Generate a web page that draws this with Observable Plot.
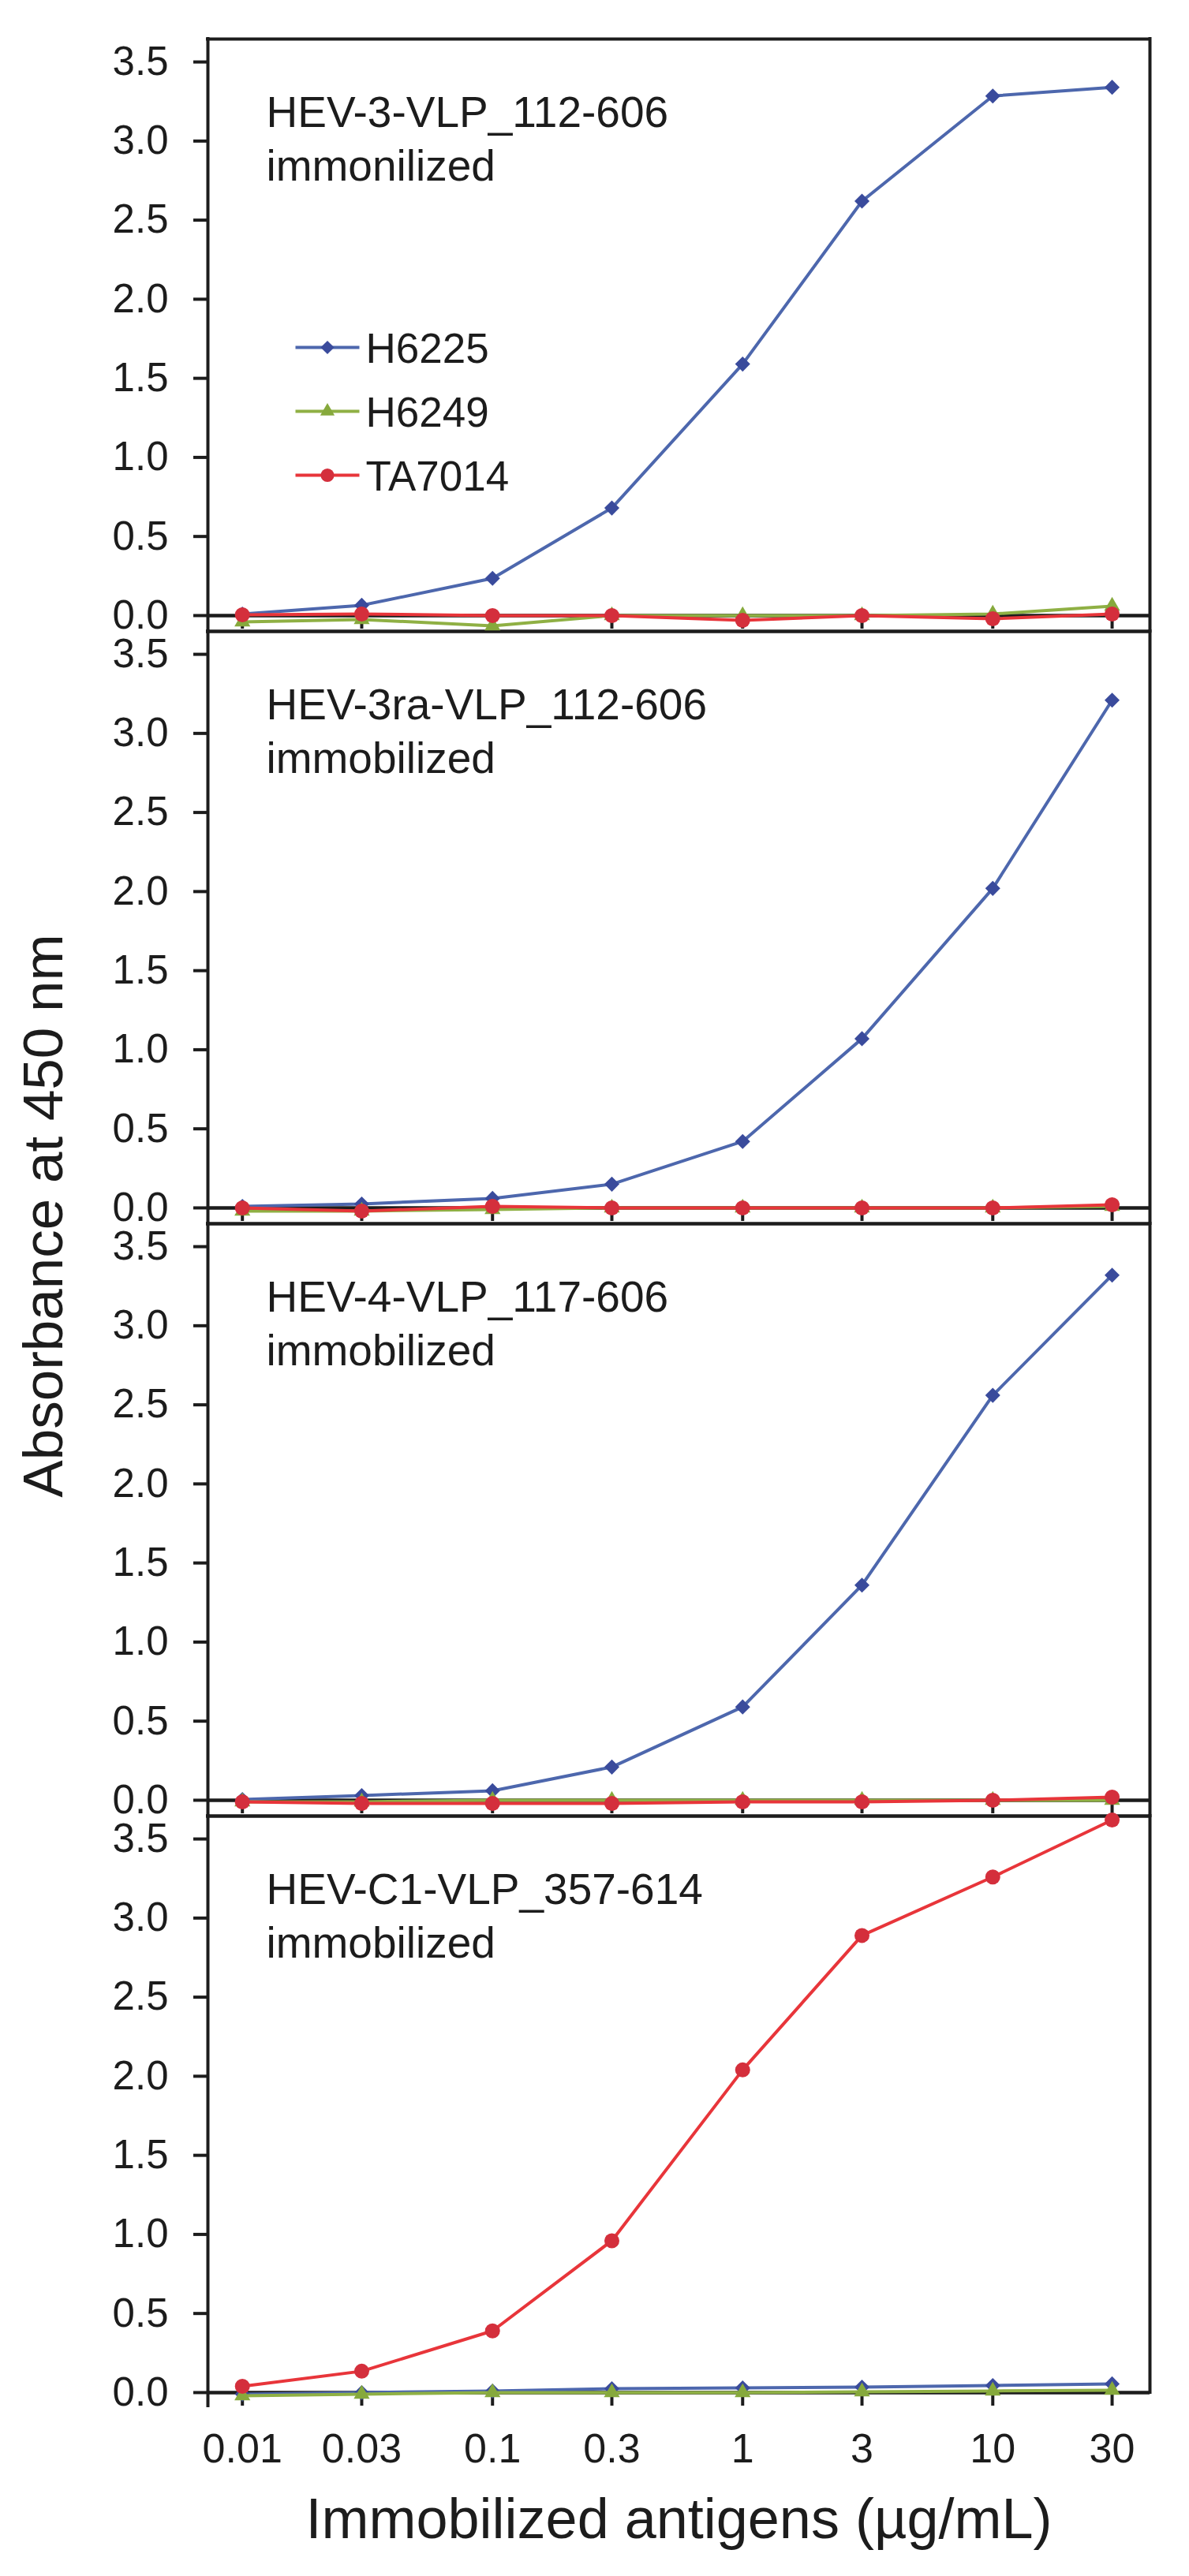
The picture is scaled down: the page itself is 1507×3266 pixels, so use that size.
<!DOCTYPE html>
<html>
<head>
<meta charset="utf-8">
<script src="https://cdn.jsdelivr.net/npm/d3@7"></script>
<script src="https://cdn.jsdelivr.net/npm/@observablehq/plot@0.6"></script>
<style>
  html, body { margin: 0; padding: 0; background: #ffffff; }
  #chart { width: 1507px; height: 3266px; overflow: hidden; }
</style>
</head>
<body>
<div id="chart"></div>
<script>
// ---------- data ----------
const concentrations = [0.01, 0.03, 0.1, 0.3, 1, 3, 10, 30];
const xTickLabels = ["0.01", "0.03", "0.1", "0.3", "1", "3", "10", "30"];
const yTicks = [0, 0.5, 1, 1.5, 2, 2.5, 3, 3.5];

const panels = ["HEV-3-VLP_112-606", "HEV-3ra-VLP_112-606", "HEV-4-VLP_117-606", "HEV-C1-VLP_357-614"];
const panelNotes = ["immonilized", "immobilized", "immobilized", "immobilized"];
const seriesNames = ["H6225", "H6249", "TA7014"];

const xTitle = "Immobilized antigens (µg/mL)";
const yTitle = "Absorbance at 450 nm";

// panel 1: HEV-3-VLP_112-606
const p1_H6225  = [0.01, 0.065, 0.235, 0.68, 1.59, 2.62, 3.285, 3.34];
const p1_H6249  = [-0.04, -0.025, -0.065, 0.0, 0.0, 0.0, 0.01, 0.06];
const p1_TA7014 = [0.005, 0.01, 0.0, 0.0, -0.03, 0.0, -0.02, 0.01];
// panel 2: HEV-3ra-VLP_112-606
const p2_H6225  = [0.01, 0.025, 0.06, 0.15, 0.42, 1.07, 2.02, 3.21];
const p2_H6249  = [-0.02, -0.02, -0.01, 0.0, 0.0, 0.0, 0.0, 0.01];
const p2_TA7014 = [0.0, -0.02, 0.01, 0.0, 0.0, 0.0, 0.0, 0.02];
// panel 3: HEV-4-VLP_117-606
const p3_H6225  = [0.005, 0.03, 0.06, 0.21, 0.59, 1.36, 2.56, 3.32];
const p3_H6249  = [-0.01, -0.01, 0.0, 0.0, 0.0, 0.0, 0.0, 0.0];
const p3_TA7014 = [-0.01, -0.02, -0.02, -0.02, -0.01, -0.01, 0.0, 0.02];
// panel 4: HEV-C1-VLP_357-614
const p4_H6225  = [-0.01, 0.0, 0.01, 0.025, 0.03, 0.035, 0.045, 0.055];
const p4_H6249  = [-0.02, -0.01, 0.0, 0.0, 0.0, 0.005, 0.01, 0.015];
const p4_TA7014 = [0.04, 0.135, 0.39, 0.96, 2.04, 2.89, 3.26, 3.62];

// ---------- styles ----------
const lineColors   = ["#4d67ad", "#8fb044", "#e8353a"];
const markerColors = ["#3a4b9c", "#86a93c", "#d42f3c"];
const markerSymbols = ["diamond2", "triangle", "circle"];
const markerSizes = [8.6, 7.5, 9.5];
const ink = "#1c1c1c";
const fontFamily = "'Liberation Sans', Arial, Helvetica, sans-serif";

const xDomain = [0.00728, 42.5];
const yDomain = [-0.1, 3.645];
const yLow4 = -0.085;          // left spine extent below zero in the last panel
const tickDown = -0.085;       // x tick length below the zero line

// ---------- table ----------
const values = [
  [p1_H6225, p1_H6249, p1_TA7014],
  [p2_H6225, p2_H6249, p2_TA7014],
  [p3_H6225, p3_H6249, p3_TA7014],
  [p4_H6225, p4_H6249, p4_TA7014]
];
const rows = [];
panels.forEach((panel, p) =>
  seriesNames.forEach((series, k) =>
    concentrations.forEach((conc, i) =>
      rows.push({panel, series, conc, value: values[p][k][i]}))));

const lastPanel = panels[panels.length - 1];
const legendLine = {draw(context) { context.moveTo(-40.5, 0); context.lineTo(40.5, 0); }};

const seriesMarks = seriesNames.flatMap((s, k) => {
  const data = rows.filter(d => d.series === s);
  return [
    Plot.line(data, {x: "conc", y: "value", fy: "panel", stroke: lineColors[k], strokeWidth: 4}),
    Plot.dot(data, {x: "conc", y: "value", fy: "panel", symbol: markerSymbols[k], r: markerSizes[k], fill: markerColors[k], stroke: "none"})
  ];
});

const legendMarks = seriesNames.flatMap((s, k) => {
  const dy = 391 + k * 81;
  const common = {fy: () => panels[0], frameAnchor: "top-left"};
  return [
    Plot.dot([s], {...common, dx: 151.5, dy, symbol: legendLine, fill: "none", stroke: lineColors[k], strokeWidth: 4}),
    Plot.dot([s], {...common, dx: 151.5, dy, symbol: markerSymbols[k], r: markerSizes[k] * 0.9, fill: markerColors[k], stroke: "none"}),
    Plot.text([s], {...common, text: d => d, dx: 200, dy: dy + 19, textAnchor: "start", lineAnchor: "bottom", fontSize: 53, fill: ink})
  ];
});

const chart = Plot.plot({
  width: 1507,
  height: 3266,
  marginLeft: 263,
  marginRight: 50,
  marginTop: 49,
  marginBottom: 213,
  style: {fontFamily, fontSize: "51px", color: ink, background: "#ffffff", overflow: "visible"},
  x: {type: "log", domain: xDomain},
  y: {domain: yDomain},
  fy: {domain: panels, padding: 0, axis: null},
  marks: [
    // frames
    Plot.ruleY(panels, {fy: d => d, y: () => yDomain[1], stroke: ink, strokeWidth: 4, strokeLinecap: "square"}),
    Plot.ruleY(panels.slice(0, 3), {fy: d => d, y: () => yDomain[0], stroke: ink, strokeWidth: 4, strokeLinecap: "square"}),
    Plot.ruleX(panels, {fy: d => d, x: () => xDomain[0], y1: d => d === lastPanel ? yLow4 : yDomain[0], y2: () => yDomain[1], stroke: ink, strokeWidth: 4, strokeLinecap: "square"}),
    Plot.ruleX(panels, {fy: d => d, x: () => xDomain[1], y1: d => d === lastPanel ? 0 : yDomain[0], y2: () => yDomain[1], stroke: ink, strokeWidth: 4, strokeLinecap: "square"}),
    // zero line and x ticks in each panel
    Plot.ruleY([0], {stroke: ink, strokeWidth: 4.5}),
    Plot.ruleX(concentrations, {x: d => d, y1: 0, y2: tickDown, stroke: ink, strokeWidth: 4}),
    // y axis in each panel
    Plot.axisY({ticks: yTicks, tickSize: 18, tickPadding: 32, tickFormat: d => d.toFixed(1), label: null, stroke: ink, strokeWidth: 4, fontSize: 51, fill: ink}),
    // x tick labels (bottom panel only)
    Plot.axisX({ticks: concentrations, tickSize: 0, tickPadding: 32, tickFormat: d => xTickLabels[concentrations.indexOf(d)], label: null, fontSize: 52, fill: ink}),
    // panel labels
    Plot.text(panels, {fy: d => d, text: (d, i) => d + "\n" + panelNotes[i], frameAnchor: "top-left", dx: 74, dy: 179, textAnchor: "start", lineAnchor: "bottom", lineHeight: 1.236, fontSize: 55, fill: ink}),
    // data
    ...seriesMarks,
    // legend
    ...legendMarks,
    // axis titles
    Plot.text([xTitle], {fy: () => lastPanel, text: d => d, frameAnchor: "bottom", dy: 164, lineAnchor: "bottom", textAnchor: "middle", fontSize: 72, fill: ink}),
    Plot.text([yTitle], {fy: () => panels[1], text: d => d, frameAnchor: "bottom-left", dx: -207, dy: -10, rotate: -90, textAnchor: "middle", lineAnchor: "middle", fontSize: 71, fill: ink})
  ]
});

document.getElementById("chart").append(chart);
</script>
</body>
</html>
